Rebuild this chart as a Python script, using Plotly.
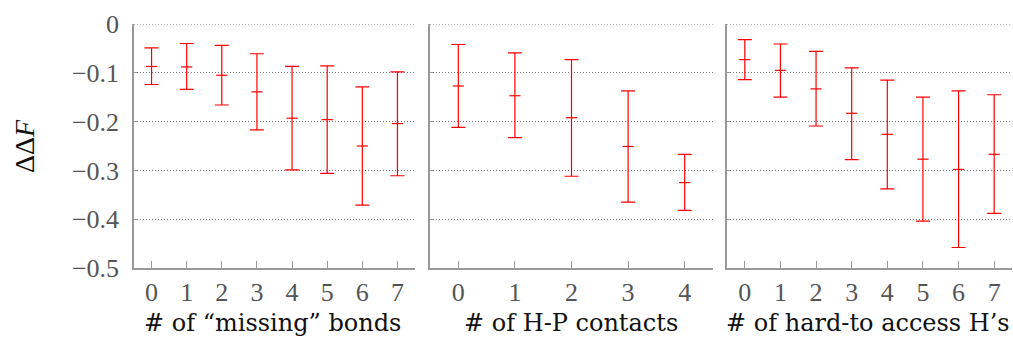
import plotly.graph_objects as go

# Panel 1: number of "missing" bonds
x1 = [0, 1, 2, 3, 4, 5, 6, 7]
mean1 = [-0.087, -0.088, -0.105, -0.139, -0.193, -0.196, -0.250, -0.204]
top1 = [-0.049, -0.040, -0.044, -0.061, -0.087, -0.086, -0.129, -0.098]
bot1 = [-0.124, -0.134, -0.166, -0.217, -0.299, -0.306, -0.371, -0.311]

# Panel 2: number of H-P contacts
x2 = [0, 1, 2, 3, 4]
mean2 = [-0.127, -0.147, -0.192, -0.251, -0.325]
top2 = [-0.042, -0.059, -0.073, -0.137, -0.267]
bot2 = [-0.212, -0.233, -0.312, -0.365, -0.382]

# Panel 3: number of hard-to-access H's
x3 = [0, 1, 2, 3, 4, 5, 6, 7]
mean3 = [-0.073, -0.095, -0.133, -0.183, -0.226, -0.277, -0.298, -0.267]
top3 = [-0.032, -0.041, -0.056, -0.090, -0.115, -0.150, -0.137, -0.145]
bot3 = [-0.114, -0.150, -0.209, -0.278, -0.338, -0.404, -0.458, -0.388]

xtitles = ["# of “missing” bonds", "# of H-P contacts", "# of hard-to access H’s"]
yticks = [0, -0.1, -0.2, -0.3, -0.4, -0.5]
yticktext = ["0", "−0.1", "−0.2", "−0.3", "−0.4", "−0.5"]

W, H = 1013, 345
doms = [(134, 415), (430, 713), (727, 1012)]
title_cx = [272, 571, 868]
ydom = [1 - 268 / H, 1 - 24 / H]
FONT = "Liberation Serif"
TFONT = "DejaVu Serif"
RED = "rgb(255,0,0)"

fig = go.Figure()
panels = [(x1, mean1, top1, bot1), (x2, mean2, top2, bot2), (x3, mean3, top3, bot3)]
for i, (xs, m, t, b) in enumerate(panels):
    plus = [tt - mm for tt, mm in zip(t, m)]
    minus = [mm - bb for mm, bb in zip(m, b)]
    suffix = "" if i == 0 else str(i + 1)
    fig.add_trace(go.Scatter(
        x=xs, y=m, mode="markers",
        marker=dict(symbol="line-ew", size=8, line=dict(color=RED, width=1.2)),
        error_y=dict(type="data", symmetric=False, array=plus, arrayminus=minus,
                     color=RED, thickness=1.2, width=7),
        xaxis="x" + suffix, yaxis="y" + suffix, showlegend=False,
    ))
    n = len(xs)
    xa = dict(
        domain=[doms[i][0] / W, doms[i][1] / W], range=[-0.5, n - 0.5],
        anchor="y" + suffix, tickvals=xs, ticktext=[str(v) for v in xs],
        ticks="inside", ticklen=7, tickcolor="#999", tickwidth=1,
        showline=True, linecolor="#999", linewidth=1.5, showgrid=False,
        zeroline=False, automargin=False,
        tickfont=dict(family=FONT, size=26, color="#555"),
    )
    ya = dict(
        domain=ydom, range=[-0.5, 0], anchor="x" + suffix,
        tickvals=yticks, ticktext=yticktext if i == 0 else [""] * 6,
        showticklabels=(i == 0), automargin=False,
        ticks="inside", ticklen=3, tickcolor="#999", tickwidth=1,
        ticklabelstandoff=8,
        showline=True, linecolor="#999", linewidth=1.5,
        showgrid=True, gridcolor="#777", griddash="1px,2px", gridwidth=1,
        zeroline=False, tickfont=dict(family=FONT, size=26, color="#555"),
    )
    fig.layout["xaxis" + suffix] = xa
    fig.layout["yaxis" + suffix] = ya
    # dotted grid line at the top (y = 0), which sits on the plot edge
    fig.add_shape(
        type="line", xref=("x" + suffix) + " domain", yref="y" + suffix,
        x0=0, x1=1, y0=yticks[0], y1=yticks[0],
        line=dict(color="#777", width=1, dash="1px,2px"),
    )
    fig.add_annotation(
        text=xtitles[i], xref="paper", yref="paper",
        x=title_cx[i] / W, y=1 - 323 / H,
        showarrow=False, font=dict(family=TFONT, size=24, color="#111"),
        xanchor="center", yanchor="middle",
    )

fig.add_annotation(
    text="ΔΔ<i>F</i>", xref="paper", yref="paper", x=25 / W, y=1 - 146 / H,
    showarrow=False, textangle=-90, font=dict(family=FONT, size=28, color="#111"),
    xanchor="center", yanchor="middle",
)

fig.update_layout(
    width=W, height=H, margin=dict(l=0, r=0, t=0, b=0),
    plot_bgcolor="white", paper_bgcolor="white",
)

fig.write_html("out.html")
